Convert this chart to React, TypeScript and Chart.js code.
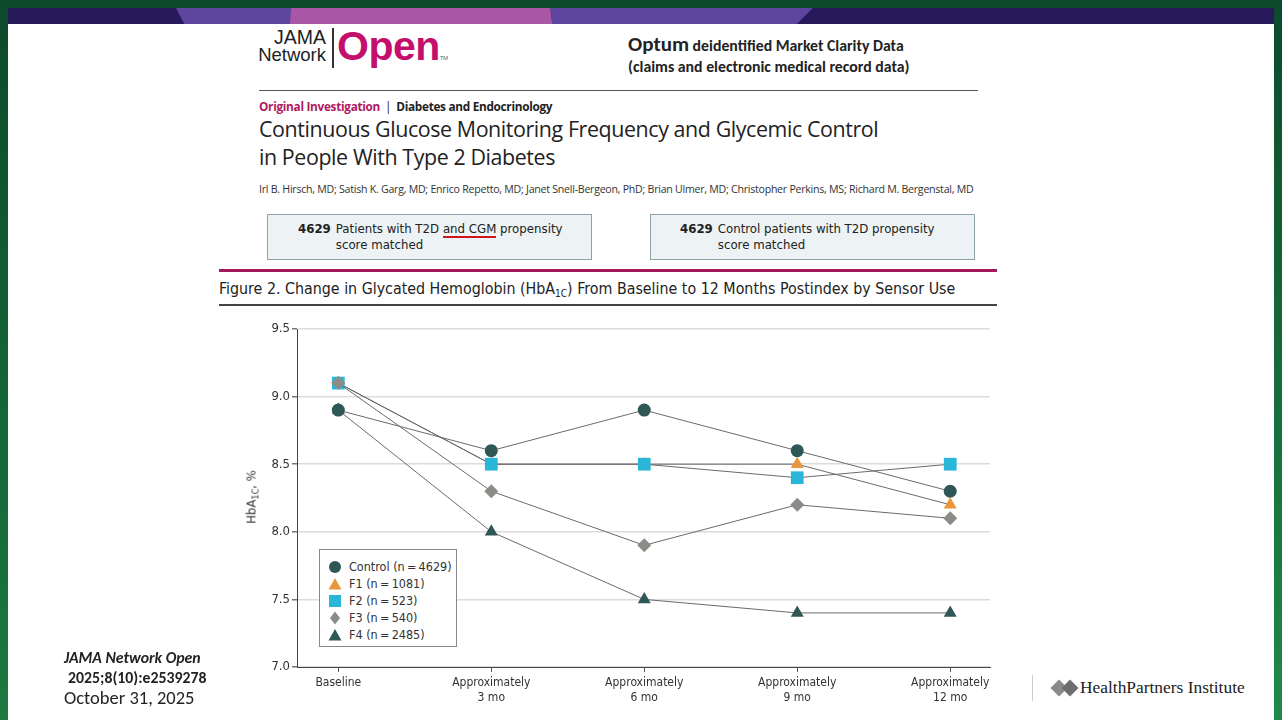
import React, { useEffect, useRef } from 'react';
import { Chart, registerables } from 'chart.js';

Chart.register(...registerables);

// ---------- data ----------
const categories: string[][] = [
  ['Baseline'],
  ['Approximately', '3 mo'],
  ['Approximately', '6 mo'],
  ['Approximately', '9 mo'],
  ['Approximately', '12 mo'],
];
const controlValues = [8.9, 8.6, 8.9, 8.6, 8.3];
const f1Values = [9.1, 8.5, 8.5, 8.5, 8.2];
const f2Values = [9.1, 8.5, 8.5, 8.4, 8.5];
const f3Values = [9.1, 8.3, 7.9, 8.2, 8.1];
const f4Values = [8.9, 8.0, 7.5, 7.4, 7.4];
const seriesLabels = [
  'Control (n\u2009=\u20094629)',
  'F1 (n\u2009=\u20091081)',
  'F2 (n\u2009=\u2009523)',
  'F3 (n\u2009=\u2009540)',
  'F4 (n\u2009=\u20092485)',
];
const yMin = 7.0;
const yMax = 9.5;
const yStep = 0.5;

// ---------- styles ----------
const COND = "'Liberation Sans Narrow', 'DejaVu Sans Condensed', 'Roboto Condensed', sans-serif";
const DARK_TEAL = '#2e5755';
const ORANGE = '#e8983a';
const CYAN = '#2ab6d9';
const GRAY = '#8b8b87';
const LINE = '#6a6a6a';

const seriesStyles = [
  { color: DARK_TEAL, shape: 'circle', radius: 6.5 },
  { color: ORANGE, shape: 'triangle', radius: 7.5 },
  { color: CYAN, shape: 'rect', radius: 9 },
  { color: GRAY, shape: 'rectRot', radius: 7 },
  { color: DARK_TEAL, shape: 'triangle', radius: 7.5 },
];
const seriesValues = [controlValues, f1Values, f2Values, f3Values, f4Values];

function Marker({ shape, color }: { shape: string; color: string }) {
  let el: React.ReactNode = null;
  if (shape === 'circle') el = <circle cx="7" cy="7" r="6" fill={color} />;
  else if (shape === 'triangle') el = <polygon points="7,1 13.5,12.5 0.5,12.5" fill={color} />;
  else if (shape === 'rect') el = <rect x="1" y="1" width="12" height="12" fill={color} />;
  else el = <polygon points="7,0.5 12,7 7,13.5 2,7" fill={color} />;
  return (
    <svg width="14" height="14" style={{ display: 'block' }}>
      {el}
    </svg>
  );
}

function ChartCanvas() {
  const ref = useRef<HTMLCanvasElement | null>(null);
  useEffect(() => {
    if (!ref.current) return;
    const chart = new Chart(ref.current, {
      type: 'line',
      data: {
        datasets: seriesValues.map((vals, i) => ({
          label: seriesLabels[i],
          data: vals.map((y, x) => ({ x, y })),
          borderColor: LINE,
          borderWidth: 1,
          tension: 0,
          fill: false,
          pointStyle: seriesStyles[i].shape as any,
          pointRadius: seriesStyles[i].radius,
          pointBackgroundColor: seriesStyles[i].color,
          pointBorderColor: seriesStyles[i].color,
          pointBorderWidth: 0,
          order: seriesValues.length - i,
        })),
      },
      options: {
        animation: false,
        responsive: true,
        maintainAspectRatio: false,
        layout: { padding: { top: 19, right: 10, left: 0, bottom: 0 } },
        plugins: {
          legend: { display: false },
          tooltip: { enabled: false },
          title: { display: false },
        },
        scales: {
          x: {
            type: 'linear',
            min: -0.27,
            max: 4.26,
            afterBuildTicks: (axis: any) => {
              axis.ticks = categories.map((_, i) => ({ value: i }));
            },
            afterFit: (axis: any) => {
              axis.height = 43;
            },
            ticks: {
              autoSkip: false,
              maxRotation: 0,
              padding: 3,
              color: '#333',
              font: { family: COND, size: 12, lineHeight: 1.25 },
              callback: (v: any) => categories[v] ?? '',
            },
            grid: {
              drawOnChartArea: false,
              tickLength: 5,
              tickColor: '#555',
            },
            border: { color: '#444', width: 1 },
          },
          y: {
            type: 'linear',
            min: yMin,
            max: yMax,
            afterFit: (axis: any) => {
              axis.width = 97;
            },
            ticks: {
              stepSize: yStep,
              padding: 2,
              color: '#333',
              font: { family: COND, size: 13 },
              callback: (v: any) => Number(v).toFixed(1),
            },
            grid: {
              color: '#dcdcdc',
              lineWidth: 1.5,
              tickLength: 5,
              tickColor: '#777',
            },
            border: { color: '#444', width: 1 },
          },
        },
      },
    });
    return () => chart.destroy();
  }, []);
  return <canvas ref={ref} />;
}

export default function App() {
  const abs = (s: React.CSSProperties): React.CSSProperties => ({ position: 'absolute', ...s });
  return (
    <div style={{ position: 'fixed', left: 0, top: 0, width: 1282, height: 720, background: '#0c4a2b', overflow: 'hidden' }}>
      {/* side strips */}
      <div style={abs({ left: 1274, top: 0, width: 8, height: 720, background: 'linear-gradient(#0c4a2b, #1f8a48)' })} />
      <div style={abs({ left: 0, top: 0, width: 8, height: 720, background: 'linear-gradient(#0c4a2b, #1a7a40)' })} />
      {/* top banner */}
      <div style={abs({ left: 8, top: 8, width: 1266, height: 16, background: '#27195a' })} />
      <div style={abs({ left: 176, top: 8, width: 640, height: 16, background: '#5d45a0', clipPath: 'polygon(0 0, 18% 0, 19% 100%, 1.3% 100%)' })} />
      <div style={abs({ left: 176, top: 8, width: 640, height: 16, background: '#aa56a6', clipPath: 'polygon(18% 0, 58.5% 0, 58.8% 100%, 17.8% 100%)' })} />
      <div style={abs({ left: 176, top: 8, width: 640, height: 16, background: '#5d45a0', clipPath: 'polygon(58.5% 0, 99.5% 0, 97% 100%, 58.8% 100%)' })} />
      {/* white slide */}
      <div style={abs({ left: 8, top: 24, width: 1266, height: 696, background: '#ffffff' })} />

      {/* JAMA Network Open logo */}
      <div style={abs({ left: 250, top: 29, width: 76, textAlign: 'right', fontFamily: "'Liberation Sans', Arial, sans-serif", color: '#222', lineHeight: '17px' })}>
        <div style={{ fontSize: 19.5, fontWeight: 500 }}>JAMA</div>
        <div style={{ fontSize: 18.5 }}>Network</div>
      </div>
      <div style={abs({ left: 332, top: 28, width: 1.5, height: 40, background: '#333' })} />
      <div style={abs({ left: 337, top: 23, fontFamily: "'Liberation Sans', Arial, sans-serif", fontWeight: 700, fontSize: 41, color: '#c4106c', letterSpacing: -0.5 })}>
        Open<span style={{ fontSize: 6, fontWeight: 400, color: '#666', verticalAlign: 'baseline' }}>TM</span>
      </div>

      {/* Optum */}
      <div style={abs({ left: 628, top: 34, fontFamily: "Carlito, Lato, sans-serif", fontWeight: 700, color: '#222', lineHeight: '21px', whiteSpace: 'nowrap' })}>
        <div><span style={{ fontSize: 21 }}>Optum</span><span style={{ fontSize: 15.8 }}> deidentified Market Clarity Data</span></div>
        <div style={{ fontSize: 15.8 }}>(claims and electronic medical record data)</div>
      </div>

      <div style={abs({ left: 259, top: 90, width: 719, height: 1, background: '#555' })} />

      {/* article header */}
      <div style={abs({ left: 259, top: 98, fontFamily: "'Open Sans', sans-serif", fontSize: 11.8, fontWeight: 700, letterSpacing: -0.3, color: '#222', whiteSpace: 'nowrap' })}>
        <span style={{ color: '#b0195f' }}>Original Investigation</span>
        <span style={{ fontWeight: 400, margin: '0 5px' }}>|</span>
        <span>Diabetes and Endocrinology</span>
      </div>
      <div style={abs({ left: 259, top: 115, fontFamily: "'Open Sans', sans-serif", fontSize: 21.4, letterSpacing: -0.4, color: '#222', lineHeight: '28px', whiteSpace: 'nowrap' })}>
        <div>Continuous Glucose Monitoring Frequency and Glycemic Control</div>
        <div>in People With Type 2 Diabetes</div>
      </div>
      <div style={abs({ left: 259, top: 182, fontFamily: "'Open Sans', sans-serif", fontSize: 10.6, letterSpacing: -0.25, color: '#333', whiteSpace: 'nowrap' })}>
        Irl B. Hirsch, MD; Satish K. Garg, MD; Enrico Repetto, MD; Janet Snell-Bergeon, PhD; Brian Ulmer, MD; Christopher Perkins, MS; Richard M. Bergenstal, MD
      </div>

      {/* boxes */}
      <div style={abs({ left: 267, top: 214, width: 323, height: 44, border: '1px solid #8ea2aa', background: '#edf3f5', fontFamily: COND, fontSize: 13.1, color: '#222', lineHeight: '16px' })}>
        <div style={{ display: 'flex', paddingTop: 6, paddingLeft: 30 }}>
          <span style={{ fontWeight: 700, marginRight: 5 }}>4629</span>
          <span>
            Patients with T2D <span style={{ borderBottom: '2px solid #d0141e' }}>and CGM</span> propensity<br />score matched
          </span>
        </div>
      </div>
      <div style={abs({ left: 650, top: 214, width: 323, height: 44, border: '1px solid #8ea2aa', background: '#edf3f5', fontFamily: COND, fontSize: 13.1, color: '#222', lineHeight: '16px' })}>
        <div style={{ display: 'flex', paddingTop: 6, paddingLeft: 29 }}>
          <span style={{ fontWeight: 700, marginRight: 5 }}>4629</span>
          <span>
            Control patients with T2D propensity<br />score matched
          </span>
        </div>
      </div>

      {/* figure title */}
      <div style={abs({ left: 219, top: 269, width: 778, height: 3, background: '#a3175c' })} />
      <div style={abs({ left: 219, top: 279, fontFamily: COND, fontSize: 15.85, color: '#222', whiteSpace: 'nowrap' })}>
        Figure 2. Change in Glycated Hemoglobin (HbA<sub style={{ fontSize: 10, verticalAlign: -3 }}>1C</sub>) From Baseline to 12 Months Postindex by Sensor Use
      </div>
      <div style={abs({ left: 219, top: 304, width: 778, height: 2, background: '#444' })} />

      {/* chart */}
      <div style={abs({ left: 200, top: 310, width: 800, height: 400 })}>
        <ChartCanvas />
      </div>
      {/* y-axis title */}
      <div style={abs({ left: 252, top: 497, transform: 'translate(-50%, -50%) rotate(-90deg)', fontFamily: COND, fontSize: 13, color: '#333', whiteSpace: 'nowrap' })}>
        HbA<sub style={{ fontSize: 9, verticalAlign: -3 }}>1C</sub>, %
      </div>
      {/* legend */}
      <div style={abs({ left: 319, top: 549, width: 136, height: 96, border: '1px solid #888', background: '#fff', fontFamily: COND, fontSize: 12.5, color: '#333' })}>
        <div style={{ paddingTop: 8, paddingLeft: 8 }}>
          {seriesLabels.map((lab, i) => (
            <div key={i} style={{ display: 'flex', alignItems: 'center', height: 17 }}>
              <Marker shape={seriesStyles[i].shape} color={seriesStyles[i].color} />
              <span style={{ marginLeft: 7 }}>{lab}</span>
            </div>
          ))}
        </div>
      </div>

      {/* citation */}
      <div style={abs({ left: 64, top: 648, fontFamily: 'Carlito, Lato, sans-serif', color: '#222', lineHeight: '20px', whiteSpace: 'nowrap' })}>
        <div style={{ fontSize: 15.8, fontWeight: 700, fontStyle: 'italic' }}>JAMA Network Open</div>
        <div style={{ fontSize: 15.8, fontWeight: 700, paddingLeft: 4 }}>2025;8(10):e2539278</div>
        <div style={{ fontSize: 18.5 }}>October 31, 2025</div>
      </div>

      {/* HealthPartners Institute */}
      <div style={abs({ left: 1032, top: 675, width: 1, height: 26, background: '#ccc' })} />
      <div style={abs({ left: 1053, top: 682, width: 12, height: 12, background: '#8a8a8a', transform: 'rotate(45deg)' })} />
      <div style={abs({ left: 1064, top: 682, width: 12, height: 12, background: '#6e6e6e', transform: 'rotate(45deg)' })} />
      <div style={abs({ left: 1080, top: 677, fontFamily: "'Liberation Serif', serif", fontSize: 17.4, color: '#222', whiteSpace: 'nowrap' })}>
        HealthPartners Institute
      </div>
    </div>
  );
}
